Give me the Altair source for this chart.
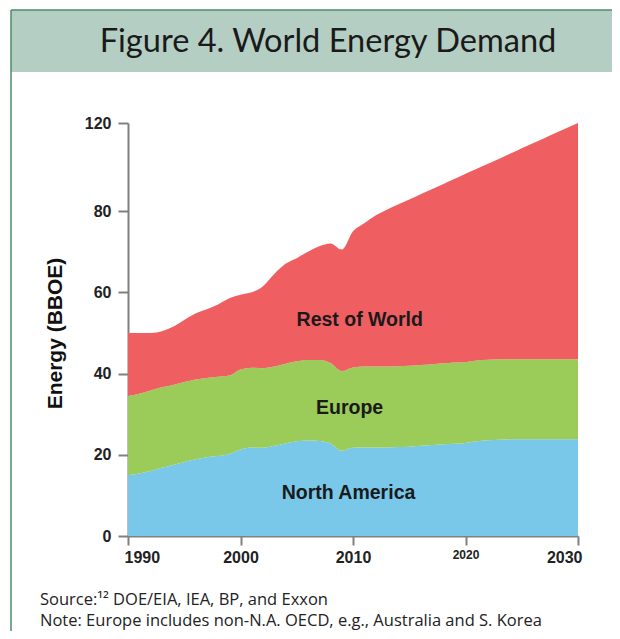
import altair as alt
import pandas as pd

years = list(range(1990, 2031))

# tops of each band (BBOE)
north_america_top = [15.0, 15.4, 16.0, 16.8, 17.5, 18.2, 18.9, 19.4, 19.7, 20.2,
                     21.3, 21.8, 21.7, 22.2, 22.8, 23.3, 23.5, 23.4, 22.8, 21.0,
                     21.7, 21.8, 21.8, 21.8, 21.9, 22.0, 22.2, 22.4, 22.6, 22.7,
                     22.9, 23.3, 23.6, 23.7, 23.8, 23.8, 23.8, 23.8, 23.8, 23.8, 23.8]
europe_top = [34.5, 35.0, 35.8, 36.6, 37.2, 37.9, 38.5, 38.9, 39.2, 39.5,
              41.0, 41.4, 41.3, 41.7, 42.4, 43.0, 43.3, 43.3, 42.6, 40.6,
              41.5, 41.7, 41.7, 41.7, 41.8, 41.9, 42.1, 42.3, 42.5, 42.7,
              42.8, 43.2, 43.4, 43.5, 43.5, 43.5, 43.5, 43.5, 43.5, 43.5, 43.5]
world_top = [50.0, 50.0, 50.0, 50.4, 51.5, 53.2, 54.8, 55.8, 57.0, 58.5,
             59.4, 60.0, 61.5, 64.5, 67.0, 68.4, 70.0, 71.3, 72.0, 70.5,
             75.0, 77.0, 78.9, 80.6, 82.9, 85.2, 87.6, 89.9, 92.2, 94.5,
             96.9, 99.2, 101.5, 103.8, 106.1, 108.5, 110.8, 113.1, 115.4, 117.7, 120.0]

regions = ["North America", "Europe", "Rest of World"]
colors = ["#79C8EA", "#9BCB59", "#EF5F62"]

y_ticks = [0, 20, 40, 60, 80, 120]
x_ticks = [1990, 2000, 2010, 2020, 2030]

label_text = ["Rest of World", "Europe", "North America"]
label_year = [2010.6, 2009.7, 2009.6]
label_value = [53.2, 31.5, 10.6]

rows = []
for i, yr in enumerate(years):
    rows.append({"year": yr, "region": "North America", "ord": 0, "value": north_america_top[i]})
    rows.append({"year": yr, "region": "Europe", "ord": 1, "value": europe_top[i] - north_america_top[i]})
    rows.append({"year": yr, "region": "Rest of World", "ord": 2, "value": world_top[i] - europe_top[i]})
df = pd.DataFrame(rows)
labels = pd.DataFrame({"label": label_text, "year": label_year, "value": label_value})

W, H = 450, 413
xscale = alt.Scale(domain=[1990, 2030], nice=False)
yscale = alt.Scale(domain=[0, 80, 120], range=[H, H - 325, 0], nice=False, zero=False)

area = alt.Chart(df).mark_area(interpolate="monotone").encode(
    x=alt.X("year:Q", scale=xscale,
            axis=alt.Axis(values=x_ticks, format="d", title=None, grid=False,
                          labelFont="Liberation Sans", labelFontWeight="bold",
                          labelFontSize={"condition": {"test": "datum.value == 2020", "value": 12}, "value": 16},
                          labelColor="#222222", labelPadding=4,
                          domainColor="#808080", domainWidth=2,
                          tickColor="#808080", tickWidth=2, tickSize=9,
                          labelFlush=True, labelFlushOffset=4, labelOverlap=False)),
    y=alt.Y("value:Q", stack="zero", scale=yscale,
            axis=alt.Axis(values=y_ticks, title="Energy (BBOE)", grid=False,
                          labelFont="Liberation Sans", labelFontWeight="bold", labelFontSize=16,
                          labelColor="#222222", labelPadding=7,
                          domainColor="#808080", domainWidth=2,
                          tickColor="#808080", tickWidth=2, tickSize=10,
                          titleFont="Liberation Sans", titleFontWeight="bold", titleFontSize=21,
                          titleColor="#111111", titleAngle=-90, titleX=-73, titleY=210,
                          titleAlign="center", titleBaseline="middle",
                          labelOverlap=False)),
    color=alt.Color("region:N", scale=alt.Scale(domain=regions, range=colors), legend=None),
    order=alt.Order("ord:Q", sort="ascending"),
)

text = alt.Chart(labels).mark_text(font="Liberation Sans", fontWeight="bold", fontSize=19.5,
                                   color="#1a1a1a", align="center", baseline="middle").encode(
    x=alt.X("year:Q", scale=xscale),
    y=alt.Y("value:Q", scale=yscale),
    text="label:N",
)

one = pd.DataFrame({"a": [0]})
band = alt.Chart(one).mark_rect(color="#B4CEC3").encode(
    x=alt.value(-117), x2=alt.value(484), y=alt.value(-113), y2=alt.value(-51))
border_left = alt.Chart(one).mark_rule(color="#4F8A6C", strokeWidth=1.5).encode(
    x=alt.value(-117), y=alt.value(-113), y2=alt.value(508))
border_top = alt.Chart(one).mark_rule(color="#4F8A6C", strokeWidth=1.5).encode(
    x=alt.value(-117), x2=alt.value(484), y=alt.value(-113))
title = alt.Chart(one).mark_text(text="Figure 4. World Energy Demand", font="Lato", fontSize=32.6,
                                 color="#1a1a1a", align="center", baseline="alphabetic").encode(
    x=alt.value(200), y=alt.value(-71))
note1 = alt.Chart(one).mark_text(text="Source:¹² DOE/EIA, IEA, BP, and Exxon", font="Open Sans",
                                 fontSize=16.5, color="#222222", align="left", baseline="middle").encode(
    x=alt.value(-88), y=alt.value(477))
note2 = alt.Chart(one).mark_text(text="Note: Europe includes non-N.A. OECD, e.g., Australia and S. Korea",
                                 font="Open Sans", fontSize=16.5, color="#222222", align="left",
                                 baseline="middle").encode(
    x=alt.value(-88), y=alt.value(498))

chart = alt.layer(band, border_left, border_top, title, area, text, note1, note2).properties(
    width=W, height=H,
    autosize=alt.AutoSizeParams(type="none"),
    padding={"left": 120, "top": 115, "right": 34, "bottom": 95},
).configure_view(stroke=None)

chart.save("out.html", embed_options={"renderer": "svg", "actions": False})
